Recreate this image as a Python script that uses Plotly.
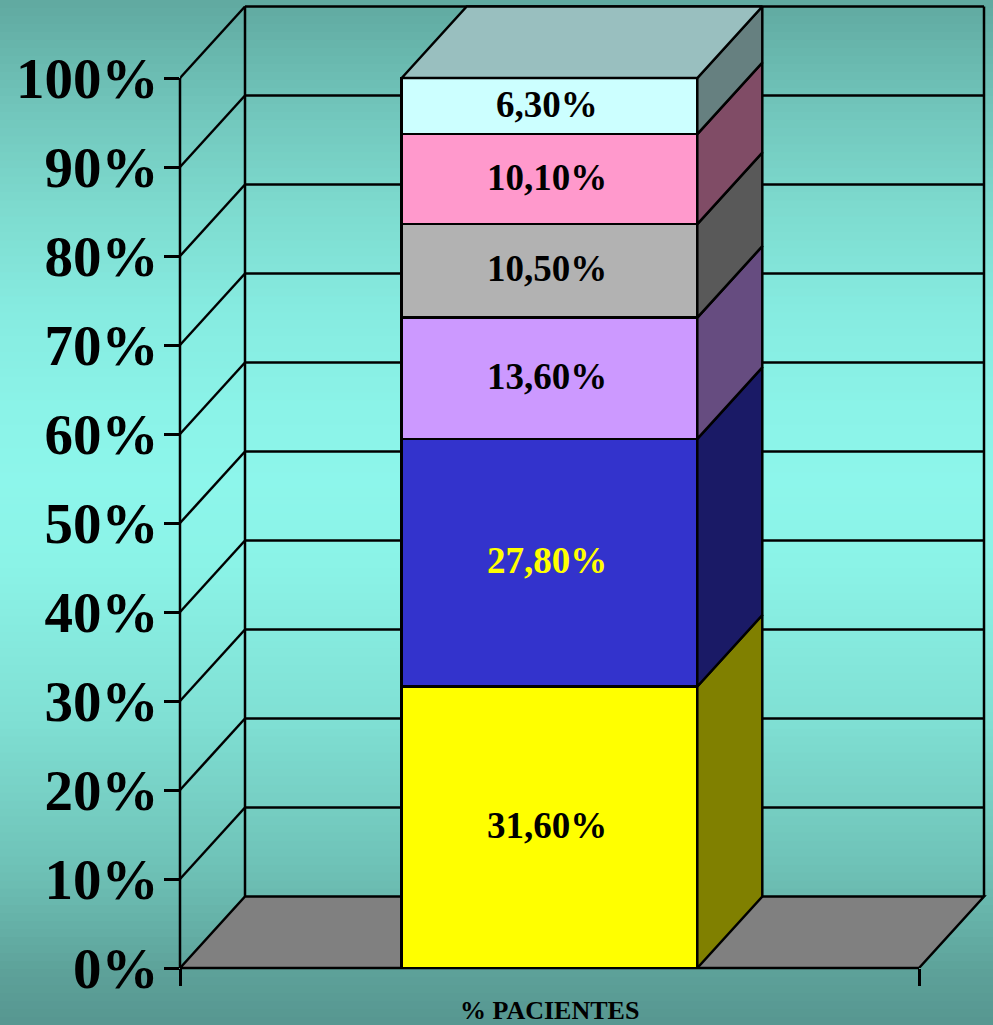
import plotly.graph_objects as go

categories = ["% PACIENTES"]
series_values = [31.6, 27.8, 13.6, 10.5, 10.1, 6.3]
value_labels = ["31,60%", "27,80%", "13,60%", "10,50%", "10,10%", "6,30%"]
front_colors = ["#ffff00", "#3333cc", "#cc99ff", "#b2b2b2", "#ff99cc", "#ccffff"]
side_colors = ["#808000", "#1a1a66", "#664c80", "#595959", "#804c66", "#668080"]
label_colors = ["#000000", "#ffff00", "#000000", "#000000", "#000000", "#000000"]
top_color = "#99bfbf"
floor_color = "#808080"
tick_values = list(range(0, 101, 10))
tick_labels = [f"{v}%" for v in tick_values]
gradient_stops = [(0.0, (96, 169, 160)), (0.1, (112, 196, 186)), (0.2, (125, 218, 206)),
                  (0.3, (134, 235, 224)), (0.4, (139, 243, 232)), (0.47, (141, 246, 235)),
                  (0.55, (139, 243, 231)), (0.7, (128, 224, 212)), (0.85, (110, 193, 182)),
                  (0.95, (93, 161, 153)), (1.0, (86, 150, 144))]

W, H = 993, 1025
LEFT, BOTTOM_PX, TOP100_PX, RIGHT_FRONT = 180, 968, 78, 919
PX_X = RIGHT_FRONT - LEFT
PX_Y = (BOTTOM_PX - TOP100_PX) / 100
DX = 65 / PX_X
DY = 71.5 / PX_Y
BAR_W = 0.4
BAR_X = 0.5
xr = [0, (990 - LEFT) / PX_X]
yr = [0, (BOTTOM_PX - 2) / PX_Y]
LINE = dict(color="#000000", width=2.5)
SERIF = "Liberation Serif"


def lerp(t):
    for (a, ca), (b, cb) in zip(gradient_stops, gradient_stops[1:]):
        if a <= t <= b:
            f = (t - a) / (b - a)
            return tuple(round(p + (q - p) * f) for p, q in zip(ca, cb))
    return gradient_stops[-1][1]


shapes = []
N = 128
top_paper = 1 + 2 / (BOTTOM_PX - 2)
bottom_paper = -(H - BOTTOM_PX) / (BOTTOM_PX - 2)
for i in range(N):
    y1 = top_paper + (bottom_paper - top_paper) * i / N
    y2 = top_paper + (bottom_paper - top_paper) * (i + 1.2) / N
    r, g, b = lerp((i + 0.5) / N)
    shapes.append(dict(type="rect", xref="paper", yref="paper", x0=-1, x1=2, y0=y1, y1=y2,
                       fillcolor=f"rgb({r},{g},{b})", line_width=0, layer="below"))

shapes.append(dict(type="path", xref="x", yref="y", layer="below", fillcolor=floor_color, line=LINE,
                   path=f"M0,0 L1,0 L{1+DX},{DY} L{DX},{DY} Z"))
for v in tick_values[1:]:
    shapes.append(dict(type="line", xref="x", yref="y", layer="below", line=LINE,
                       x0=0, y0=v, x1=DX, y1=v + DY))
    shapes.append(dict(type="line", xref="x", yref="y", layer="below", line=LINE,
                       x0=DX, y0=v + DY, x1=1 + DX, y1=v + DY))
for xv in (DX, 1 + DX):
    shapes.append(dict(type="line", xref="x", yref="y", layer="below", line=LINE,
                       x0=xv, y0=DY, x1=xv, y1=100 + DY))
# front axis lines: half of their width lies outside the plot area, so they use paper refs
shapes.append(dict(type="line", xref="paper", yref="y", layer="below", line=LINE,
                   x0=0, x1=0, y0=0, y1=100))
shapes.append(dict(type="line", xref="x", yref="paper", layer="below", line=LINE,
                   x0=0, x1=1, y0=0, y1=0))

fig = go.Figure()
total = sum(series_values)
annotations = []
cum = 0
for val, lab, fc, lc in zip(series_values, value_labels, front_colors, label_colors):
    fig.add_trace(go.Bar(
        x=[BAR_X], y=[val], width=[BAR_W],
        marker=dict(color=fc, line=LINE), cliponaxis=False, showlegend=False, hoverinfo="skip"))
    annotations.append(dict(text=lab, x=BAR_X, y=(cum + val / 2) / total * 100, xref="x", yref="y",
                            xshift=-3, yshift=2, showarrow=False, xanchor="center", yanchor="middle",
                            font=dict(family=SERIF, size=37, color=lc, weight="bold")))
    cum += val

xl, xr_bar = BAR_X - BAR_W / 2, BAR_X + BAR_W / 2
cum = 0
for val, sc in zip(series_values, side_colors):
    lo = cum / total * 100
    cum += val
    hi = cum / total * 100
    fig.add_trace(go.Scatter(
        x=[xr_bar, xr_bar + DX, xr_bar + DX, xr_bar, xr_bar],
        y=[lo, lo + DY, hi + DY, hi, lo],
        mode="lines", fill="toself", fillcolor=sc, line=LINE, cliponaxis=False,
        showlegend=False, hoverinfo="skip"))
fig.add_trace(go.Scatter(
    x=[xl, xr_bar, xr_bar + DX, xl + DX, xl], y=[100, 100, 100 + DY, 100 + DY, 100],
    mode="lines", fill="toself", fillcolor=top_color, line=LINE, cliponaxis=False,
    showlegend=False, hoverinfo="skip"))

annotations.append(dict(text=categories[0], x=BAR_X, xref="x", y=0, yref="paper", yanchor="top",
                        yshift=-26, xanchor="center", showarrow=False,
                        font=dict(family=SERIF, size=26, color="#000000", weight="bold")))

fig.update_layout(
    width=W, height=H, autosize=False, barmode="stack", barnorm="percent",
    margin=dict(l=LEFT, r=W - 990, t=2, b=H - BOTTOM_PX, pad=0),
    paper_bgcolor="rgba(0,0,0,0)", plot_bgcolor="rgba(0,0,0,0)",
    shapes=shapes,
    xaxis=dict(range=xr, tickvals=[0, 1], ticktext=["", ""], ticks="outside", ticklen=17,
               tickwidth=2.5, tickcolor="#000000", showgrid=False, zeroline=False, showline=False,
               fixedrange=True),
    yaxis=dict(range=yr, tickvals=tick_values, ticktext=tick_labels, ticks="outside", ticklen=15,
               tickwidth=2.5, tickcolor="#000000", showgrid=False, zeroline=False, showline=False,
               ticklabelstandoff=-6, fixedrange=True,
               tickfont=dict(family=SERIF, size=57, color="#000000", weight="bold")),
    annotations=annotations,
)
fig.write_html("out.html", post_script="document.body.style.margin='0';document.body.style.overflow='hidden';",
               config={"displayModeBar": False})
